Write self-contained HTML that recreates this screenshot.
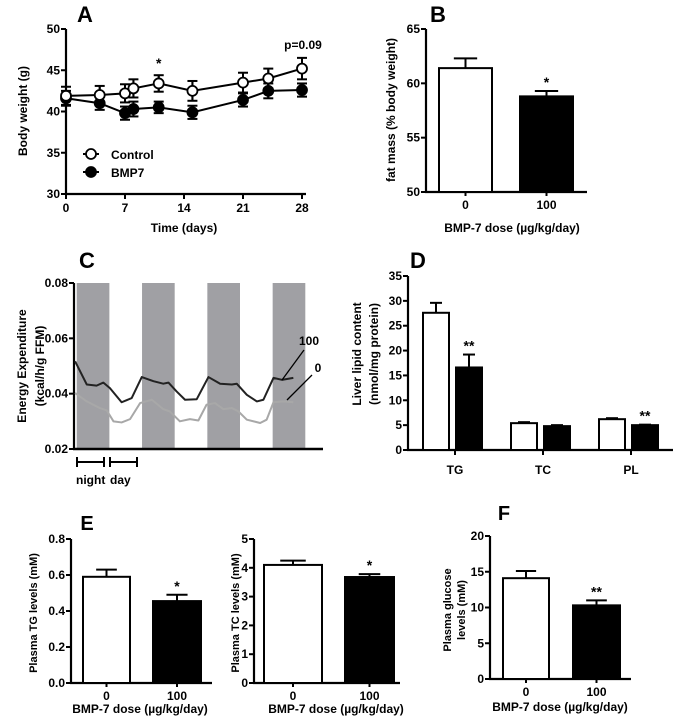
<!DOCTYPE html>
<html><head><meta charset="utf-8"><style>
html,body{margin:0;padding:0;background:#fff}
svg{display:block;font-family:"Liberation Sans",Arial,sans-serif;font-weight:bold}
</style></head><body>
<svg id="fig" width="678" height="720" viewBox="0 0 678 720"></svg>
<script>
// ---- Panel A data ----
const aDays=[0,4,7,8,11,15,21,24,28];
const aControl=[41.9,42.0,42.2,42.8,43.4,42.5,43.5,44.0,45.2];
const aControlErr=[1.1,1.1,1.1,1.1,1.0,1.2,1.2,1.2,1.3];
const aBmp7=[41.6,41.0,39.8,40.3,40.5,39.9,41.4,42.5,42.6];
const aBmp7Err=[0.9,0.8,0.8,0.9,0.7,0.8,0.8,0.9,0.8];
const aYTicks=[30,35,40,45,50];
const aXTicks=[0,7,14,21,28];
// ---- Panel B data ----
const bCategories=['0','100'];
const bValues=[61.4,58.8];
const bErr=[0.9,0.5];
const bYTicks=[50,55,60,65];
// ---- Panel C data ----
const cTimes100=[0.4,4.7,8.3,10.8,13.2,17.5,21.2,24.9,29.2,32.8,34.7,37.7,40.8,45.1,49.4,53.7,58,59.8,63.5,67.2,69.6,73.3,76.4,80.6];
const cValues100=[0.0517,0.0433,0.0429,0.044,0.042,0.0369,0.0384,0.046,0.0445,0.0436,0.044,0.0408,0.0378,0.038,0.046,0.0436,0.0433,0.0436,0.0396,0.0372,0.0378,0.0457,0.045,0.0457];
const cTimes0=[0.4,4.7,9.5,12,14.5,17.5,20.6,24.3,28.6,32.8,35.2,38.9,42.6,45.7,48.7,51.8,54.9,58,60.4,63.5,68.4,70.8,73.3,77,80.6];
const cValues0=[0.0402,0.0372,0.0348,0.034,0.030,0.0296,0.0308,0.0366,0.0378,0.0344,0.0336,0.030,0.0308,0.0303,0.036,0.0366,0.0344,0.0348,0.0336,0.0306,0.0294,0.0306,0.0369,0.0372,0.0369];
const cNightStarts=[1,25,49,73];
const cYTicks=[0.02,0.04,0.06,0.08];
// ---- Panel D data ----
const dCategories=['TG','TC','PL'];
const dControl=[27.6,5.4,6.2];
const dControlErr=[2.0,0.2,0.2];
const dBmp7=[16.6,4.8,5.0];
const dBmp7Err=[2.6,0.2,0.1];
const dYTicks=[0,5,10,15,20,25,30,35];
// ---- Panel E / F data ----
const eTgValues=[0.59,0.455];
const eTgErr=[0.04,0.035];
const eTgTicks=[0.0,0.2,0.4,0.6,0.8];
const eTcValues=[4.1,3.68];
const eTcErr=[0.15,0.1];
const eTcTicks=[0,1,2,3,4,5];
const fValues=[14.1,10.3];
const fErr=[1.0,0.7];
const fTicks=[0,5,10,15,20];

const svg=document.getElementById('fig');
const NS='http://www.w3.org/2000/svg';
function mk(tag,attrs,parent){const e=document.createElementNS(NS,tag);for(const k in attrs)e.setAttribute(k,attrs[k]);(parent||svg).appendChild(e);return e;}
function txt(s,x,y,size,anchor,parent,rot){const t=mk('text',{x:x,y:y,'font-size':size,'text-anchor':anchor||'middle',fill:'#000'},parent);if(rot)t.setAttribute('transform','rotate(-90 '+x+' '+y+')');t.textContent=s;return t;}
function lin(d0,d1,r0,r1){return v=>r0+(v-d0)/(d1-d0)*(r1-r0);}
function yAxis(g,x,ys,ticks,fmt,size){
  const l=mk('line',{x1:x,y1:ys(ticks[0])+1,x2:x,y2:ys(ticks[ticks.length-1]),stroke:'#000','stroke-width':2.2},g);
  
  
  ticks.forEach(v=>{
    mk('line',{x1:x-5,y1:ys(v),x2:x,y2:ys(v),stroke:'#000','stroke-width':2},g);
    const t=txt(fmt(v),x-6,ys(v)+4,size,'end',g);
    
    
  });
}
function errBar(g,cx,y0,y1,w){mk('line',{x1:cx,y1:y0,x2:cx,y2:y1,stroke:'#000','stroke-width':2},g);mk('line',{x1:cx-w,y1:y1,x2:cx+w,y2:y1,stroke:'#000','stroke-width':2},g);}

// ================= Panel A =================
(function(){
  const g=mk('g',{});
  
  
  const xs=lin(0,28,66,302), ys=lin(30,50,194,29);
  txt('A',85,22,22,'middle',g);
  yAxis(g,66,ys,aYTicks,v=>v,12);
  const xl=mk('line',{x1:65,y1:194,x2:306,y2:194,stroke:'#000','stroke-width':2.2},g);
  
  
  aXTicks.forEach(v=>{mk('line',{x1:xs(v),y1:194,x2:xs(v),y2:199,stroke:'#000','stroke-width':2},g);
    const t=txt(String(v),xs(v),212,12,'middle',g);
    
    });
  const yt=txt('Body weight (g)',27,111,12,'middle',g,true);
  
  
  const xt=txt('Time (days)',184,232,12,'middle',g);
  
  
  function series(vals,errs,fill,name){
    const sg=mk('g',{},g);
    
    
    mk('polyline',{points:aDays.map((d,i)=>xs(d)+','+ys(vals[i])).join(' '),fill:'none',stroke:'#000','stroke-width':2},sg);
    aDays.forEach((d,i)=>{errBar(sg,xs(d),ys(vals[i]-errs[i]),ys(vals[i]+errs[i]),5);errBar(sg,xs(d),ys(vals[i]+errs[i]),ys(vals[i]-errs[i]),5);});
    aDays.forEach((d,i)=>{const c=mk('circle',{cx:xs(d),cy:ys(vals[i]),r:5,fill:fill,stroke:'#000','stroke-width':1.8},sg);
      
      });
  }
  series(aBmp7,aBmp7Err,'#000','series-bmp7');
  series(aControl,aControlErr,'#fff','series-control');
  txt('*',xs(11),68,14,'middle',g);
  txt('p=0.09',303,49,12,'middle',g);
  const lg=mk('g',{},g);
  
  
  mk('line',{x1:83,y1:154,x2:99,y2:154,stroke:'#000','stroke-width':2},lg);
  mk('circle',{cx:91,cy:154,r:5,fill:'#fff',stroke:'#000','stroke-width':1.8},lg);
  txt('Control',111,159,12,'start',lg);
  mk('line',{x1:83,y1:172,x2:99,y2:172,stroke:'#000','stroke-width':2},lg);
  mk('circle',{cx:91,cy:172,r:5,fill:'#000',stroke:'#000','stroke-width':1.8},lg);
  txt('BMP7',111,177,12,'start',lg);
})();

// ============ generic 2-bar panel ============
function twoBar(cfg){
  const g=mk('g',{});
  
  
  const ys=lin(cfg.min,cfg.max,cfg.yBot,cfg.yTop);
  yAxis(g,cfg.ax,ys,cfg.ticks,cfg.fmt,cfg.fs);
  const xl=mk('line',{x1:cfg.ax-1,y1:cfg.yBot,x2:cfg.xEnd,y2:cfg.yBot,stroke:'#000','stroke-width':2.2},g);
  
  
  cfg.vals.forEach((v,i)=>{
    const b=cfg.bars[i], cx=b[0]+b[1]/2;
    errBar(g,cx,ys(v),ys(v+cfg.errs[i]),b[1]*0.22);
    const r=mk('rect',{x:b[0],y:ys(v),width:b[1],height:cfg.yBot-ys(v),fill:i?'#000':'#fff',stroke:'#000','stroke-width':2},g);
    
    
    mk('line',{x1:cx,y1:cfg.yBot,x2:cx,y2:cfg.yBot+4,stroke:'#000','stroke-width':2},g);
    const t=txt(bCategories[i],cx,cfg.yBot+cfg.fs+5,cfg.fs,'middle',g);
    
    
  });
  txt(cfg.star,cfg.bars[1][0]+cfg.bars[1][1]/2,ys(cfg.vals[1]+cfg.errs[1])-4,cfg.fs+2,'middle',g);
  const xt=txt('BMP-7 dose (µg/kg/day)',cfg.titleX,cfg.titleY,cfg.fs,'middle',g);
  
  
  cfg.ylab.forEach((s,i)=>{const t=txt(s,cfg.ylx[i],cfg.yly,cfg.yfs,'middle',g,true);
    
    });
  return g;
}
twoBar({name:'panel-b-fat-mass',ax:426,yTop:29,yBot:192,xEnd:587,min:50,max:65,ticks:bYTicks,fmt:v=>v,fs:12,vals:bValues,errs:bErr,bars:[[439,53],[520,53]],star:'*',titleX:512,titleY:232,ylab:['fat mass  (% body weight)'],ylx:[395],yly:110,yfs:12});
txt('B',438,22,22,'middle');
twoBar({name:'panel-e-plasma-tg',ax:71,yTop:539,yBot:683,xEnd:212,min:0,max:0.8,ticks:eTgTicks,fmt:v=>v.toFixed(1),fs:12,vals:eTgValues,errs:eTgErr,bars:[[83,47],[153,48]],star:'*',titleX:140,titleY:713,ylab:['Plasma TG levels (mM)'],ylx:[37],yly:613,yfs:11});
txt('E',87,530,20,'middle');
twoBar({name:'panel-e-plasma-tc',ax:254,yTop:539,yBot:683,xEnd:400,min:0,max:5,ticks:eTcTicks,fmt:v=>v,fs:12,vals:eTcValues,errs:eTcErr,bars:[[264,58],[345,49]],star:'*',titleX:336,titleY:713,ylab:['Plasma TC levels (mM)'],ylx:[239],yly:613,yfs:11});
twoBar({name:'panel-f-plasma-glucose',ax:490,yTop:536,yBot:679,xEnd:631,min:0,max:20,ticks:fTicks,fmt:v=>v,fs:12,vals:fValues,errs:fErr,bars:[[503,46],[573,47]],star:'**',titleX:560,titleY:711,ylab:['Plasma glucose','levels (mM)'],ylx:[451,465],yly:610,yfs:11});
txt('F',504,520,20,'middle');

// ================= Panel C =================
(function(){
  const g=mk('g',{});
  
  
  const xs=lin(0,91.5,74,323), ys=lin(0.02,0.08,449,283);
  txt('C',87,268,22,'middle',g);
  cNightStarts.forEach(t=>{const r=mk('rect',{x:xs(t),y:283,width:xs(t+12)-xs(t),height:166,fill:'#a0a0a4'},g);
    
    });
  yAxis(g,74,ys,cYTicks,v=>v.toFixed(2),12);
  const xl=mk('line',{x1:73,y1:449,x2:323,y2:449,stroke:'#000','stroke-width':2.5},g);
  
  
  const l0=mk('polyline',{points:cTimes0.map((t,i)=>xs(t)+','+ys(cValues0[i])).join(' '),fill:'none',stroke:'#a8a8a8','stroke-width':2,'stroke-linejoin':'round'},g);
  
  
  const l1=mk('polyline',{points:cTimes100.map((t,i)=>xs(t)+','+ys(cValues100[i])).join(' '),fill:'none',stroke:'#222','stroke-width':2,'stroke-linejoin':'round'},g);
  
  
  mk('line',{x1:282,y1:380,x2:304,y2:350,stroke:'#000','stroke-width':1.3},g);
  mk('line',{x1:287,y1:400,x2:312,y2:375,stroke:'#000','stroke-width':1.3},g);
  txt('100',309,345,12,'middle',g);
  txt('0',318,372,12,'middle',g);
  const t1=txt('Energy Expenditure',26,366,12,'middle',g,true);
  
  
  const t2=txt('(kcal/h/g FFM)',44,366,12,'middle',g,true);
  
  
  [[77,104],[110,137]].forEach(p=>{mk('line',{x1:p[0],y1:462,x2:p[1],y2:462,stroke:'#000','stroke-width':2},g);mk('line',{x1:p[0],y1:457,x2:p[0],y2:467,stroke:'#000','stroke-width':2},g);mk('line',{x1:p[1],y1:457,x2:p[1],y2:467,stroke:'#000','stroke-width':2},g);});
  txt('night',76,484,12,'start',g);
  txt('day',110,484,12,'start',g);
})();

// ================= Panel D =================
(function(){
  const g=mk('g',{});
  
  
  const ys=lin(0,35,450,276);
  txt('D',418,268,22,'middle',g);
  yAxis(g,408,ys,dYTicks,v=>v,12);
  const xl=mk('line',{x1:407,y1:450,x2:673,y2:450,stroke:'#000','stroke-width':2.2},g);
  
  
  const groupX=[423,511,599], bw=26, gap=32;
  dCategories.forEach((c,i)=>{
    const x0=groupX[i], x1=x0+gap+1;
    errBar(g,x0+bw/2,ys(dControl[i]),ys(dControl[i]+dControlErr[i]),6);
    errBar(g,x1+bw/2,ys(dBmp7[i]),ys(dBmp7[i]+dBmp7Err[i]),6);
    const r0=mk('rect',{x:x0,y:ys(dControl[i]),width:bw,height:450-ys(dControl[i]),fill:'#fff',stroke:'#000','stroke-width':2},g);
    
    
    const r1=mk('rect',{x:x1,y:ys(dBmp7[i]),width:bw,height:450-ys(dBmp7[i]),fill:'#000',stroke:'#000','stroke-width':2},g);
    
    
    mk('line',{x1:x0+gap,y1:450,x2:x0+gap,y2:455,stroke:'#000','stroke-width':2},g);
    const t=txt(c,x0+gap,474,12,'middle',g);
    
    
  });
  txt('**',groupX[0]+gap+1+bw/2,ys(dBmp7[0]+dBmp7Err[0])-4,14,'middle',g);
  txt('**',groupX[2]+gap+1+bw/2,ys(dBmp7[2]+dBmp7Err[2])-4,14,'middle',g);
  const t1=txt('Liver lipid content',361,354,12,'middle',g,true);
  
  
  const t2=txt('(nmol/mg protein)',378,354,12,'middle',g,true);
  
  
})();
</script>
</body></html>
